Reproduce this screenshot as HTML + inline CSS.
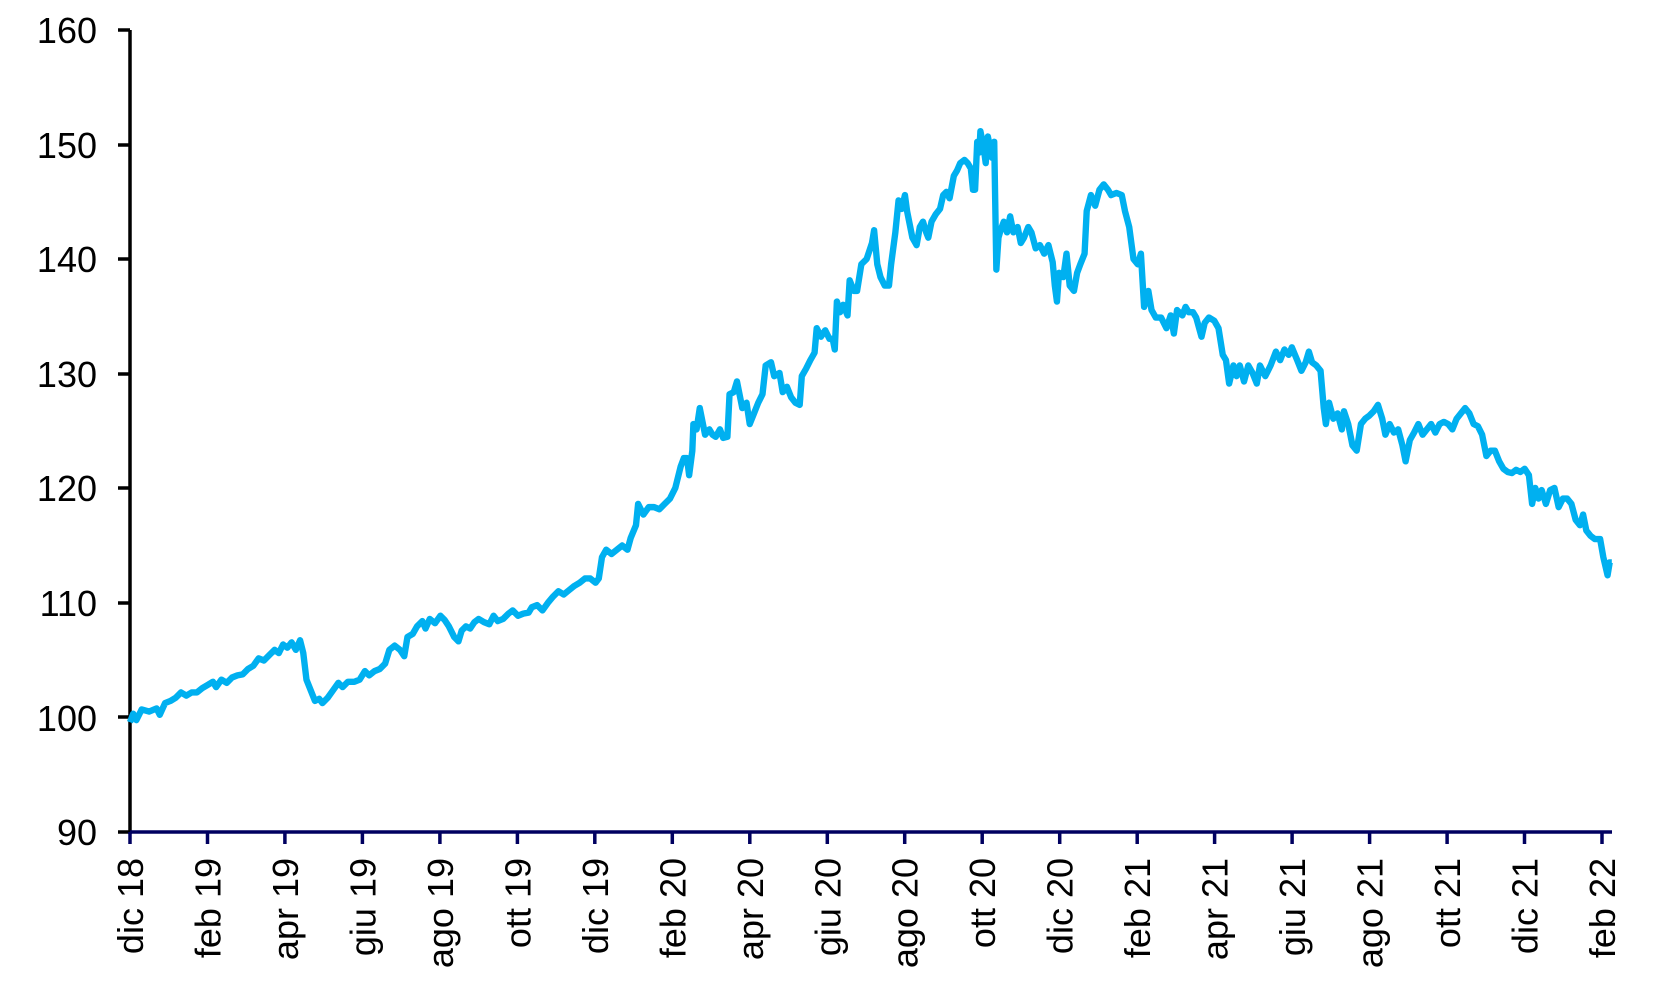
<!DOCTYPE html>
<html><head><meta charset="utf-8"><style>
html,body{margin:0;padding:0;background:#fff;}
svg{display:block;}
text{font-family:"Liberation Sans",sans-serif;font-size:36px;fill:#000;}
</style></head><body>
<svg width="1668" height="992" viewBox="0 0 1668 992" xmlns="http://www.w3.org/2000/svg">
<g text-anchor="end">
<text x="97" y="43">160</text>
<text x="97" y="158">150</text>
<text x="97" y="272">140</text>
<text x="97" y="387">130</text>
<text x="97" y="501">120</text>
<text x="97" y="616">110</text>
<text x="97" y="731">100</text>
<text x="97" y="845">90</text>
</g>
<g stroke="#000" stroke-width="3.5">
<line x1="130" y1="30" x2="130" y2="834"/>
<line x1="118" y1="30" x2="130" y2="30"/>
<line x1="118" y1="145" x2="130" y2="145"/>
<line x1="118" y1="259" x2="130" y2="259"/>
<line x1="118" y1="374" x2="130" y2="374"/>
<line x1="118" y1="488" x2="130" y2="488"/>
<line x1="118" y1="603" x2="130" y2="603"/>
<line x1="118" y1="717" x2="130" y2="717"/>
<line x1="118" y1="832" x2="130" y2="832"/>
</g>
<line x1="130" y1="832" x2="1612" y2="832" stroke="#000060" stroke-width="3.5"/>
<g stroke="#000060" stroke-width="3.5">
<line x1="130" y1="832" x2="130" y2="844"/>
<line x1="207.5" y1="832" x2="207.5" y2="844"/>
<line x1="284.9" y1="832" x2="284.9" y2="844"/>
<line x1="362.4" y1="832" x2="362.4" y2="844"/>
<line x1="439.9" y1="832" x2="439.9" y2="844"/>
<line x1="517.4" y1="832" x2="517.4" y2="844"/>
<line x1="594.8" y1="832" x2="594.8" y2="844"/>
<line x1="672.3" y1="832" x2="672.3" y2="844"/>
<line x1="749.8" y1="832" x2="749.8" y2="844"/>
<line x1="827.3" y1="832" x2="827.3" y2="844"/>
<line x1="904.7" y1="832" x2="904.7" y2="844"/>
<line x1="982.2" y1="832" x2="982.2" y2="844"/>
<line x1="1059.7" y1="832" x2="1059.7" y2="844"/>
<line x1="1137.2" y1="832" x2="1137.2" y2="844"/>
<line x1="1214.6" y1="832" x2="1214.6" y2="844"/>
<line x1="1292.1" y1="832" x2="1292.1" y2="844"/>
<line x1="1369.6" y1="832" x2="1369.6" y2="844"/>
<line x1="1447.1" y1="832" x2="1447.1" y2="844"/>
<line x1="1524.5" y1="832" x2="1524.5" y2="844"/>
<line x1="1602" y1="832" x2="1602" y2="844"/>
</g>
<g text-anchor="end">
<text transform="translate(143,858) rotate(-90)">dic 18</text>
<text transform="translate(220.5,858) rotate(-90)">feb 19</text>
<text transform="translate(297.9,858) rotate(-90)">apr 19</text>
<text transform="translate(375.4,858) rotate(-90)">giu 19</text>
<text transform="translate(452.9,858) rotate(-90)">ago 19</text>
<text transform="translate(530.4,858) rotate(-90)">ott 19</text>
<text transform="translate(607.8,858) rotate(-90)">dic 19</text>
<text transform="translate(685.3,858) rotate(-90)">feb 20</text>
<text transform="translate(762.8,858) rotate(-90)">apr 20</text>
<text transform="translate(840.3,858) rotate(-90)">giu 20</text>
<text transform="translate(917.7,858) rotate(-90)">ago 20</text>
<text transform="translate(995.2,858) rotate(-90)">ott 20</text>
<text transform="translate(1072.7,858) rotate(-90)">dic 20</text>
<text transform="translate(1150.2,858) rotate(-90)">feb 21</text>
<text transform="translate(1227.6,858) rotate(-90)">apr 21</text>
<text transform="translate(1305.1,858) rotate(-90)">giu 21</text>
<text transform="translate(1382.6,858) rotate(-90)">ago 21</text>
<text transform="translate(1460.1,858) rotate(-90)">ott 21</text>
<text transform="translate(1537.5,858) rotate(-90)">dic 21</text>
<text transform="translate(1615,858) rotate(-90)">feb 22</text>
</g>
<polyline fill="none" stroke="#00b0f0" stroke-width="6" stroke-linejoin="round" transform="translate(130,30) scale(1.063,1.065) translate(-122,-30)" points="122,680 125,672 128,678 133,668 140,670 147,667 150,673 155,662 160,660 165,657 170,652 175,655 180,652 185,652 190,648 195,645 200,642 203,647 208,640 213,643 218,638 223,636 228,635 233,630 238,627 243,620 248,622 253,617 258,612 262,615 266,607 270,610 274,605 278,612 282,603 285,615 288,640 292,650 296,660 300,658 303,662 308,657 313,650 318,643 322,647 327,642 333,642 338,640 343,632 347,636 352,632 357,630 362,625 366,612 371,608 376,612 380,618 383,600 388,597 392,590 397,585 400,592 404,583 409,587 414,580 418,584 422,590 427,600 431,604 434,594 438,590 442,592 446,586 450,583 455,586 460,588 464,580 468,585 473,583 478,578 482,575 487,580 492,578 497,577 500,572 505,570 510,575 515,568 520,562 525,557 530,560 535,556 540,552 545,549 550,545 555,545 560,549 563,545 566,525 570,518 575,522 580,518 585,514 590,518 593,507 598,495 600,475 605,485 610,478 615,478 620,480 625,475 630,470 635,460 640,440 643,432 646,432 648,448 651,425 652,400 655,405 658,385 660,395 663,410 667,405 670,410 673,412 677,405 680,413 684,412 686,372 690,370 693,360 695,370 698,385 702,380 705,400 709,390 713,380 717,372 720,345 725,342 728,355 733,352 736,370 740,365 744,375 748,380 752,382 754,355 758,348 762,340 766,333 768,310 772,318 776,312 780,320 783,320 785,330 787,285 790,295 793,288 797,298 799,265 803,275 806,275 810,250 815,245 820,230 822,218 825,250 828,262 832,270 836,270 838,250 842,220 845,190 848,198 851,185 853,200 858,225 862,232 865,215 868,210 871,220 873,225 876,210 880,203 884,198 887,185 890,182 893,188 897,167 900,162 903,155 907,152 910,155 913,160 915,180 917,180 919,135 921,145 922,125 925,140 927,155 929,130 931,140 933,150 935,135 937,255 939,225 941,218 944,210 947,220 950,205 953,220 957,215 960,230 963,225 967,215 970,220 974,235 978,232 982,240 986,232 990,248 992,270 994,285 996,258 1000,262 1003,240 1006,270 1010,275 1013,258 1016,250 1020,240 1022,200 1026,185 1030,195 1034,180 1038,175 1042,180 1045,185 1050,183 1055,185 1058,200 1062,215 1066,245 1070,250 1073,240 1076,290 1080,275 1083,293 1087,300 1092,300 1097,310 1101,298 1104,315 1107,293 1112,298 1115,290 1118,295 1122,295 1125,300 1130,318 1133,305 1137,300 1142,303 1146,310 1150,335 1153,340 1156,362 1160,345 1163,355 1166,345 1170,360 1174,345 1178,352 1182,362 1185,345 1190,355 1195,345 1200,332 1204,340 1208,330 1212,335 1215,328 1220,340 1224,350 1228,342 1231,332 1234,342 1238,345 1242,350 1245,385 1247,400 1250,380 1254,395 1258,390 1262,405 1264,388 1268,400 1272,420 1276,425 1280,400 1284,395 1288,392 1292,388 1296,382 1300,395 1303,410 1307,400 1311,408 1315,405 1319,420 1322,435 1326,415 1330,408 1334,400 1338,410 1342,405 1346,400 1350,408 1354,400 1358,398 1362,400 1366,405 1370,395 1374,390 1378,385 1382,390 1386,400 1390,402 1394,410 1398,430 1402,425 1406,425 1410,435 1414,442 1418,445 1422,446 1426,443 1430,445 1434,442 1438,448 1441,475 1444,460 1447,470 1450,462 1454,475 1458,462 1462,460 1466,478 1470,470 1474,470 1478,475 1482,490 1486,495 1489,485 1492,500 1496,505 1500,508 1505,508 1508,525 1512,542 1514,530 1516,530"/>
</svg>
</body></html>
